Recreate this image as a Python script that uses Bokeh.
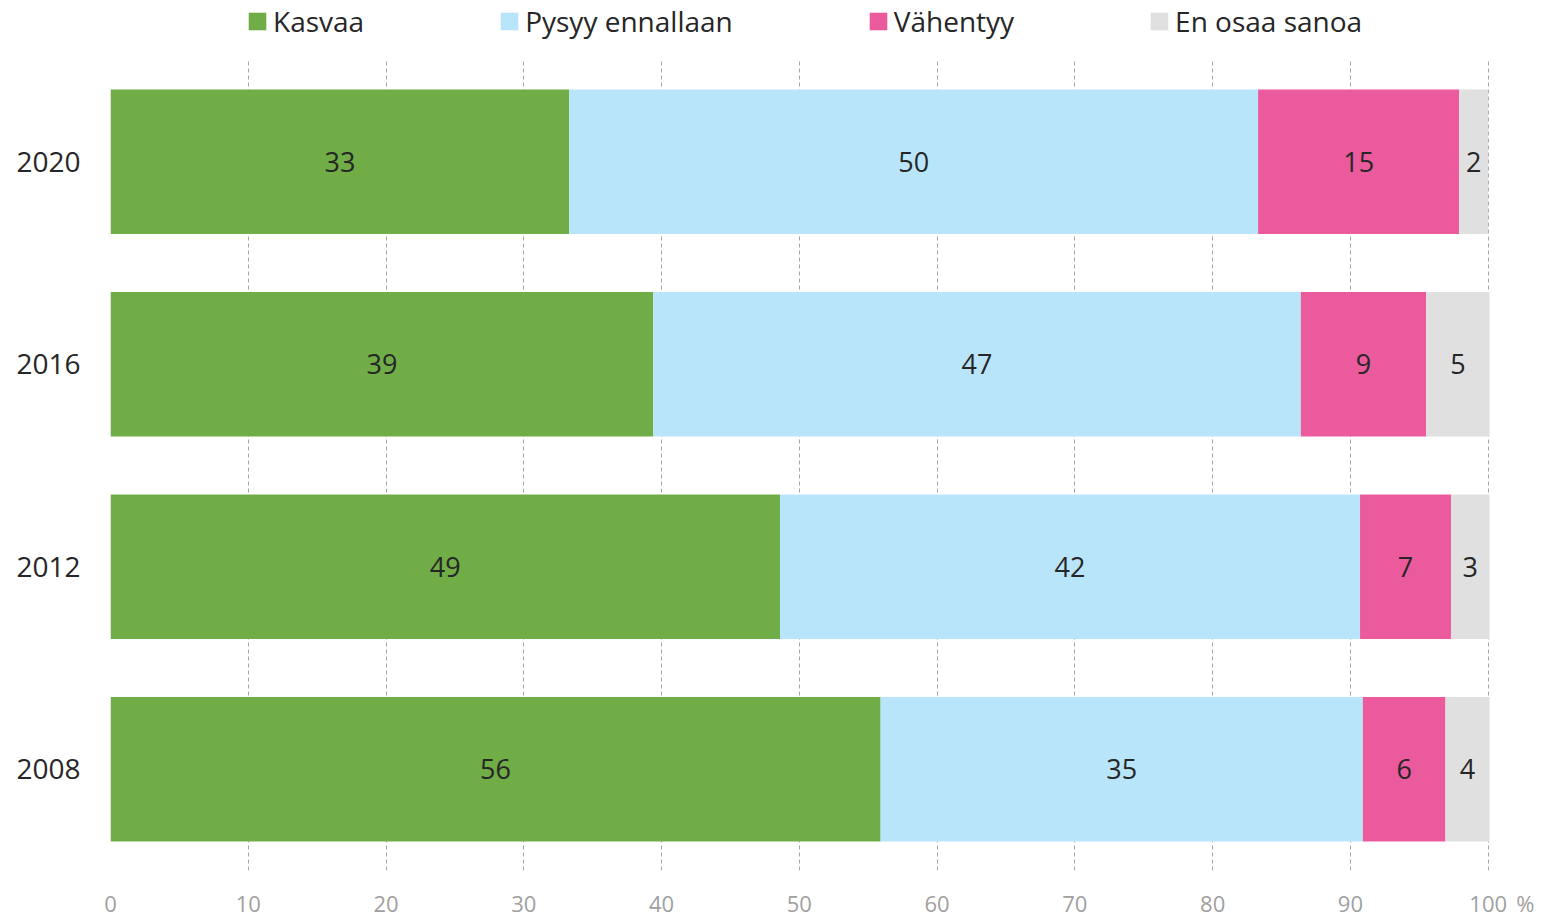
from bokeh.plotting import figure
from bokeh.layouts import column
from bokeh.models import (FactorRange, FixedTicker, Legend, LegendItem, ColumnDataSource,
                          CustomJSTickFormatter)
from bokeh.core.properties import value
from bokeh.embed import file_html
from bokeh.resources import INLINE

years = ["2008", "2012", "2016", "2020"]
series = ["Kasvaa", "Pysyy ennallaan", "Vähentyy", "En osaa sanoa"]
kasvaa = [55.9, 48.6, 39.4, 33.3]
pysyy = [35.0, 42.1, 47.0, 50.0]
vahentyy = [6.0, 6.6, 9.1, 14.6]
eos = [3.2, 2.8, 4.6, 2.1]
kasvaa_lbl = ["56", "49", "39", "33"]
pysyy_lbl = ["35", "42", "47", "50"]
vahentyy_lbl = ["6", "7", "9", "15"]
eos_lbl = ["4", "3", "5", "2"]
grid_ticks = [0, 10, 20, 30, 40, 50, 60, 70, 80, 90, 100]
unit_tick = 102.7  # position of the "%" unit mark

colors = ["#70AD47", "#B9E5FB", "#EC5A9E", "#E0E0E0"]
FONT = "Open Sans"
W = 1542
LEG_H = 40
CH_H = 920 - LEG_H

# ---------- legend strip (stub glyphs sit outside the visible range) ----------
pl = figure(width=W, height=LEG_H, x_range=(0, 10), y_range=(0, 10),
            x_axis_type=None, y_axis_type=None, output_backend="svg",
            toolbar_location=None, min_border=0)
pl.outline_line_color = None
pl.grid.visible = False
dummies = [pl.rect(x=[-100], y=[-100], width=[1], height=[1], fill_color=c, line_color=None)
           for c in colors]
legend = Legend(items=[LegendItem(label=s, renderers=[r]) for s, r in zip(series, dummies)],
                orientation="horizontal", location=(136, 0))
legend.label_text_font = FONT
legend.label_text_font_size = "28px"
legend.label_text_color = "#262626"
legend.glyph_width = 22
legend.glyph_height = 22
legend.label_standoff = 5
legend.spacing = 134
legend.padding = 0
legend.margin = 0
legend.border_line_color = None
legend.background_fill_alpha = 0
pl.add_layout(legend, "center")

# ---------- chart ----------
p = figure(width=W, height=CH_H, y_range=FactorRange(factors=years, range_padding=0),
           x_range=(0, 103), output_backend="svg", toolbar_location=None,
           min_border_left=110, min_border_right=W - 110 - round(103 * 13.78),
           min_border_top=60 - LEG_H, min_border_bottom=48)
p.outline_line_color = None

src = ColumnDataSource(dict(year=years, Kasvaa=kasvaa, Pysyy=pysyy, Vah=vahentyy, Eos=eos))
keys = ["Kasvaa", "Pysyy", "Vah", "Eos"]
rs = p.hbar_stack(keys, y="year", height=0.714, color=colors, source=src, line_color=None)

all_vals = [kasvaa, pysyy, vahentyy, eos]
all_lbls = [kasvaa_lbl, pysyy_lbl, vahentyy_lbl, eos_lbl]
for i, (vals, lbls) in enumerate(zip(all_vals, all_lbls)):
    xs = []
    for j in range(len(years)):
        start = sum(all_vals[k][j] for k in range(i))
        xs.append(start + vals[j] / 2)
    p.text(x=xs, y=years, text=lbls, text_align="center", text_baseline="middle",
           text_font=value(FONT), text_font_size="27px", text_color="#262626")

p.xaxis.ticker = FixedTicker(ticks=grid_ticks + [unit_tick])
p.xaxis.formatter = CustomJSTickFormatter(code="return tick > 100 ? '%' : tick.toFixed(0);")
p.xaxis.axis_line_color = None
p.xaxis.major_tick_line_color = None
p.xaxis.minor_tick_line_color = None
p.xaxis.major_label_text_font = FONT
p.xaxis.major_label_text_font_size = "22px"
p.xaxis.major_label_text_color = "#A0A0A0"
p.xaxis.major_label_standoff = 11

p.yaxis.axis_line_color = None
p.yaxis.major_tick_line_color = None
p.yaxis.minor_tick_line_color = None
p.yaxis.major_label_text_font = FONT
p.yaxis.major_label_text_font_size = "28px"
p.yaxis.major_label_text_color = "#262626"
p.yaxis.major_label_standoff = 24

p.ygrid.grid_line_color = None
p.xgrid.ticker = FixedTicker(ticks=grid_ticks)
p.xgrid.grid_line_color = "#A6A6A6"
p.xgrid.grid_line_dash = "4 3"
p.xgrid.grid_line_width = 1
p.xgrid.level = "underlay"

layout = column(pl, p, spacing=0)
open("out.html", "w").write(file_html(layout, INLINE))
